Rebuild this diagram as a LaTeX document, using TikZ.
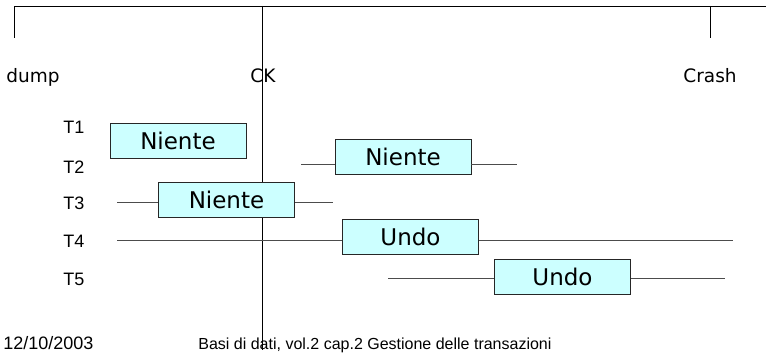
\documentclass[tikz,border=0pt]{standalone}
\usepackage{fontspec}
\setmainfont{Liberation Sans}
\newfontfamily\comicfont{DejaVu Sans}
\usetikzlibrary{positioning, calc}
\definecolor{boxfill}{HTML}{CCFFFF}
\tikzset{
  timeline/.style={
	x=1pt, y=-1pt, % one unit is one pixel of the slide
	line width=0.8pt, % lines of the slide
  },
  event/.style={font=\comicfont\fontsize{18.5}{22}\selectfont, inner sep=0pt, anchor=base}, % dump, CK, Crash
  trans/.style={font=\fontsize{18}{22}\selectfont, inner sep=0pt, anchor=base west}, % T1 ... T5
  recovery/.style={draw=black!85, fill=boxfill, minimum width=136pt, minimum height=35pt, inner sep=0pt, font=\comicfont\fontsize{23}{27}\selectfont}, % what to do
  life/.style={draw=black!70}, % lifetime of a transaction
  footer/.style={font=\fontsize{18}{22}\selectfont, inner sep=0pt, anchor=base west},
}

\begin{document}
\begin{tikzpicture}[timeline]
\useasboundingbox (0,0) rectangle (766,353);

% time axis
\coordinate (dumptop) at (14,6);
\coordinate (dumpend) at (14,38);
\coordinate (axisend) at (766,6);
\coordinate (cktop) at (262,6);
\coordinate (ckend) at (262,350);
\coordinate (crashtop) at (710,6);
\coordinate (crashend) at (710,38);
\draw (dumpend) -- (dumptop) -- (axisend);
\draw (crashtop) -- (crashend);
\draw (cktop) -- (ckend);

\node[event] (dump) at (33,82) {dump};
\node[event] (ck) at (263,82) {CK};
\node[event] (crash) at (710,82) {Crash};

% transactions
\node[trans] (t1) at (63,133) {T1};
\node[trans] (t2) at (63,173) {T2};
\node[trans] (t3) at (63,209) {T3};
\node[trans] (t4) at (63,247) {T4};
\node[trans] (t5) at (63,285) {T5};

\node[recovery] (n1) at (178,140.5) {Niente};
\node[recovery] (n2) at (403,156.5) {Niente};
\node[recovery] (n3) at (226.5,199.5) {Niente};
\node[recovery] (n4) at (410.5,236.5) {Undo};
\node[recovery] (n5) at (562.5,276.5) {Undo};

\coordinate (s2) at (301,164);
\coordinate (e2) at (517,164);
\coordinate (s3) at (117,202);
\coordinate (e3) at (333,202);
\coordinate (s4) at (117,240);
\coordinate (e4) at (733,240);
\coordinate (s5) at (388,278);
\coordinate (e5) at (725,278);

\draw[life] (s2) -- (n2.west |- s2)  (n2.east |- e2) -- (e2)
	(s3) -- (n3.west |- s3)  (n3.east |- e3) -- (e3)
	(s4) -- (n4.west |- s4)  (n4.east |- e4) -- (e4)
	(s5) -- (n5.west |- s5)  (n5.east |- e5) -- (e5)
;

% footer of the slide
\node[footer] (date) at (3,349) {12/10/2003};
\node[footer, font=\fontsize{16}{20}\selectfont] (title) at (198,349) {Basi di dati, vol.2 cap.2 Gestione delle transazioni};
\end{tikzpicture}
\end{document}
